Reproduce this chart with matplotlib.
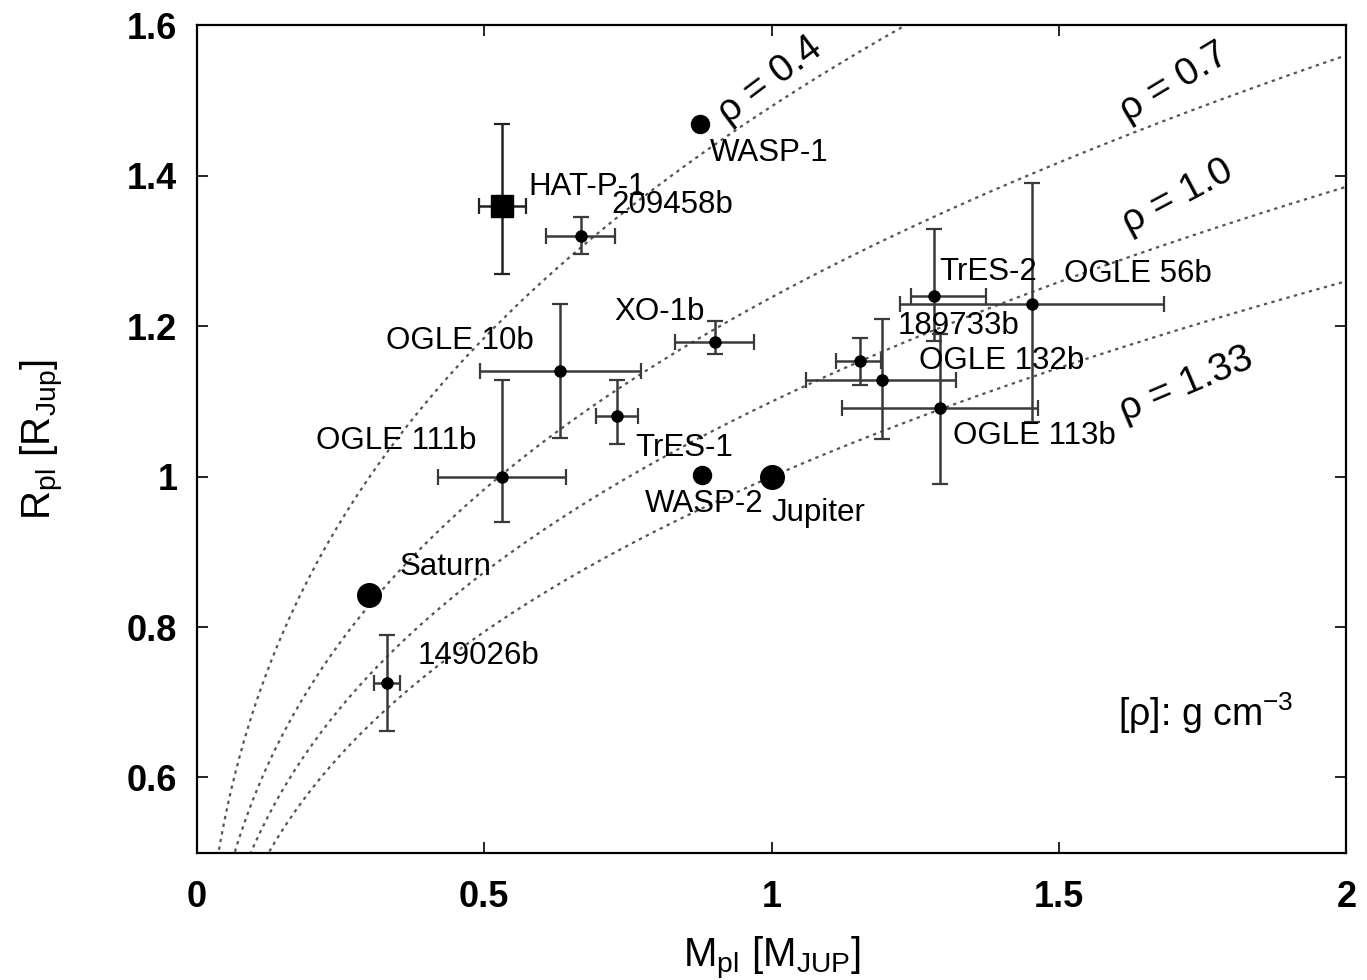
import numpy as np
import matplotlib
matplotlib.use("Agg")
import matplotlib.pyplot as plt

plt.rcParams['font.family'] = ['Liberation Sans', 'DejaVu Sans']
plt.rcParams['mathtext.fontset'] = 'custom'
plt.rcParams['mathtext.rm'] = 'Liberation Sans'
plt.rcParams['mathtext.it'] = 'Liberation Sans:italic'

# planets with error bars: mass, radius, mass range, radius range
names = ['209458b', 'XO-1b', 'OGLE 10b', 'OGLE 111b', 'TrES-1', '149026b',
         'TrES-2', 'OGLE 56b', '189733b', 'OGLE 132b', 'OGLE 113b']
mass = [0.668, 0.901, 0.631, 0.531, 0.731, 0.331, 1.283, 1.453, 1.153, 1.192, 1.293]
radius = [1.320, 1.179, 1.140, 1.000, 1.080, 0.725, 1.240, 1.229, 1.154, 1.129, 1.091]
mass_lo = [0.608, 0.832, 0.492, 0.420, 0.695, 0.308, 1.243, 1.223, 1.112, 1.060, 1.123]
mass_hi = [0.727, 0.970, 0.772, 0.643, 0.768, 0.353, 1.372, 1.683, 1.191, 1.321, 1.463]
rad_lo = [1.296, 1.163, 1.051, 0.940, 1.044, 0.662, 1.181, 1.073, 1.122, 1.050, 0.990]
rad_hi = [1.345, 1.207, 1.229, 1.129, 1.129, 0.789, 1.330, 1.390, 1.185, 1.210, 1.190]

# HAT-P-1 (square)
hat_m, hat_r = 0.530, 1.360
hat_m_range = (0.491, 0.572)
hat_r_range = (1.270, 1.469)

# WASP planets (no error bars)
wasp_names = ['WASP-1', 'WASP-2']
wasp_m = [0.875, 0.878]
wasp_r = [1.469, 1.002]

# solar system
sol_names = ['Jupiter', 'Saturn']
sol_m = [1.0, 0.299]
sol_r = [1.0, 0.842]

# iso-density curves [g cm^-3]
densities = [0.4, 0.7, 1.0, 1.33]
rho_jup = 1.33

# label positions
lab_names = ['WASP-1', 'HAT-P-1', '209458b', 'XO-1b', 'OGLE 10b', 'OGLE 111b',
             'TrES-1', 'WASP-2', 'Jupiter', 'Saturn', '149026b', 'TrES-2',
             'OGLE 56b', '189733b', 'OGLE 132b', 'OGLE 113b']
lab_x = [0.892, 0.576, 0.722, 0.727, 0.329, 0.207, 0.763, 0.779, 1.000, 0.353,
         0.384, 1.292, 1.508, 1.219, 1.257, 1.315]
lab_y = [1.430, 1.385, 1.361, 1.219, 1.180, 1.048, 1.038, 0.963, 0.951, 0.880,
         0.761, 1.272, 1.269, 1.200, 1.154, 1.054]

rho_lab_x = [0.997, 1.700, 1.706, 1.722]
rho_lab_y = [1.527, 1.524, 1.372, 1.122]
rho_lab_rot = [37, 31, 28, 23]

fig = plt.figure(figsize=(13.67, 9.8), dpi=100)
ax = fig.add_axes([0.144, 0.130, 0.841, 0.844])

m_grid = np.linspace(0.001, 2.0, 600)
for rho in densities:
    r_curve = (m_grid * rho_jup / rho) ** (1.0 / 3.0)
    ax.plot(m_grid, r_curve, color='#555555', lw=1.6, linestyle=(0, (1.5, 2.0)), zorder=1)

m = np.array(mass)
r = np.array(radius)
xerr = [m - np.array(mass_lo), np.array(mass_hi) - m]
yerr = [r - np.array(rad_lo), np.array(rad_hi) - r]
ax.errorbar(m, r, xerr=xerr, yerr=yerr, fmt='o', color='black', ms=8,
            ecolor='#3a3a3a', elinewidth=1.8, capsize=6, capthick=1.6, zorder=3)

ax.errorbar([hat_m], [hat_r],
            xerr=[[hat_m - hat_m_range[0]], [hat_m_range[1] - hat_m]],
            yerr=[[hat_r - hat_r_range[0]], [hat_r_range[1] - hat_r]],
            fmt='s', color='black', ms=16, ecolor='#222222', elinewidth=1.8,
            capsize=6, capthick=1.6, zorder=3)

ax.plot(wasp_m, wasp_r, 'o', color='black', ms=13, zorder=3)
ax.plot(sol_m, sol_r, 'o', color='black', ms=17, zorder=3)

for name, x, y in zip(lab_names, lab_x, lab_y):
    ax.text(x, y, name, fontsize=22.5, ha='left', va='center', zorder=4)

for rho, x, y, rot in zip(densities, rho_lab_x, rho_lab_y, rho_lab_rot):
    lab = f'{rho:.2f}' if rho == 1.33 else f'{rho:.1f}'
    ax.text(x, y, 'ρ = ' + lab, fontsize=28, rotation=rot,
            ha='center', va='center', rotation_mode='anchor', zorder=4)

ax.text(1.602, 0.686, '[ρ]: g cm$^{-3}$', fontsize=27, ha='left', va='center')

ax.set_xlim(0, 2)
ax.set_ylim(0.5, 1.6)
ax.set_xticks([0, 0.5, 1, 1.5, 2])
ax.set_xticklabels(['0', '0.5', '1', '1.5', '2'])
ax.set_yticks([0.6, 0.8, 1.0, 1.2, 1.4, 1.6])
ax.set_yticklabels(['0.6', '0.8', '1', '1.2', '1.4', '1.6'])
ax.tick_params(direction='in', length=8, width=1.2, top=True, right=True,
               labelsize=26)
ax.tick_params(axis='x', pad=20)
ax.tick_params(axis='y', pad=14)
for lbl in ax.get_xticklabels() + ax.get_yticklabels():
    lbl.set_fontweight('bold')
for sp in ax.spines.values():
    sp.set_linewidth(1.6)

ax.set_xlabel(r'M$_{\mathrm{pl}}$ [M$_{\mathrm{JUP}}$]', fontsize=29, labelpad=14)
ax.set_ylabel(r'R$_{\mathrm{pl}}$ [R$_{\mathrm{Jup}}$]', fontsize=29, labelpad=44)

fig.savefig('out.png', dpi=100)
